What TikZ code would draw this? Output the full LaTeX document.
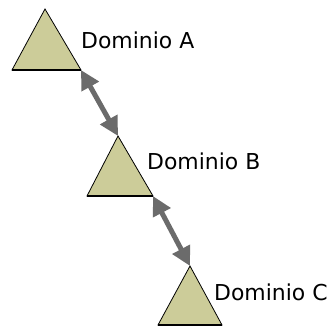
\documentclass[tikz,border=0pt]{standalone}
\usepackage{fontspec}
\setmainfont{DejaVu Sans}
\usetikzlibrary{arrows.meta}
\definecolor{khaki}{HTML}{CCCC99}
\definecolor{arrowgray}{HTML}{6B6B6B}
\tikzset{
  dom/.style={fill=khaki, draw=black, line width=0.8bp, line join=miter},
  domlabel/.style={anchor=west, inner sep=0pt, font=\fontsize{22}{26}\selectfont},
  link/.style={draw=arrowgray, line width=5bp,
    {Triangle[length=19bp,width=19bp]}-{Triangle[length=19bp,width=19bp]}}
}
\begin{document}
\begin{tikzpicture}[x=1bp,y=-1bp]
\useasboundingbox (0,0) rectangle (336,326);
% triangle A
\coordinate (Atop) at (45,9);
\coordinate (Al) at (12,70);
\coordinate (Ar) at (81,70);
\filldraw[dom] (Atop) -- (Ar) -- (Al) -- cycle;
\draw[line width=1.6bp] (Al) -- (Ar);
% triangle B
\coordinate (Btop) at (118,136);
\coordinate (Bl) at (87,196);
\coordinate (Br) at (153,196);
\filldraw[dom] (Btop) -- (Br) -- (Bl) -- cycle;
\draw[line width=1.6bp] (Bl) -- (Br);
% triangle C
\coordinate (Ctop) at (190,266);
\coordinate (Cl) at (158,325);
\coordinate (Cr) at (222,325);
\filldraw[dom] (Ctop) -- (Cr) -- (Cl) -- cycle;
\draw[line width=1.6bp] (Cl) -- (Cr);
% labels
\node[domlabel] (la) at (81,40) {Dominio A};
\node[domlabel] (lb) at (147,161) {Dominio B};
\node[domlabel] (lc) at (214,292) {Dominio C};
% connectors
\draw[link] (Ar) -- (Btop);
\draw[link] (Br) -- (Ctop);
\end{tikzpicture}
\end{document}
